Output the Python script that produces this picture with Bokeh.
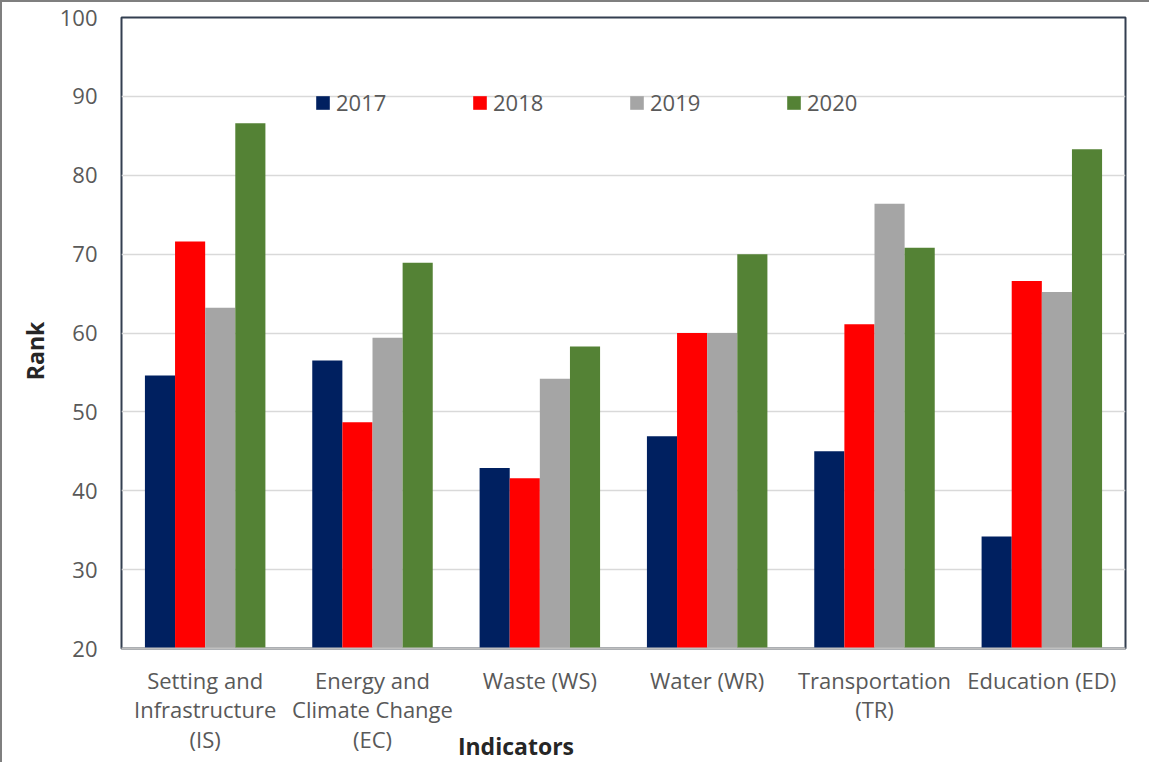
from bokeh.plotting import figure
from bokeh.models import FactorRange, ColumnDataSource, Legend, LegendItem, SingleIntervalTicker
from bokeh.transform import dodge
from bokeh.embed import file_html
from bokeh.resources import INLINE

categories = ["Setting and\nInfrastructure\n(IS)", "Energy and\nClimate Change\n(EC)", "Waste (WS)",
              "Water (WR)", "Transportation\n(TR)", "Education (ED)"]
years = ["2017", "2018", "2019", "2020"]
v2017 = [54.6, 56.5, 42.9, 46.9, 45.0, 34.2]
v2018 = [71.6, 48.7, 41.6, 60.0, 61.1, 66.6]
v2019 = [63.2, 59.4, 54.2, 60.0, 76.4, 65.2]
v2020 = [86.6, 68.9, 58.3, 70.0, 70.8, 83.3]
colors = ["#002060", "#FF0000", "#A5A5A5", "#548235"]

source = ColumnDataSource(dict(cat=categories, y2017=v2017, y2018=v2018, y2019=v2019, y2020=v2020))

FONT = "Open Sans"
NB = "\u00a0"
p = figure(width=1149, height=762, x_range=FactorRange(factors=categories, range_padding=0),
           y_range=(20, 100), output_backend="svg", toolbar_location=None,
           min_border_left=119, min_border_right=26, min_border_top=15, min_border_bottom=114)
p.styles = {"border-left": "2px solid #7f7f7f", "border-top": "2px solid #7f7f7f"}

p.outline_line_color = "#333F50"
p.outline_line_width = 2
p.background_fill_color = "white"
p.border_fill_color = "white"

offsets = [-0.27, -0.09, 0.09, 0.27]
bar_w = 0.18
renderers = []
for yr, off, col in zip(years, offsets, colors):
    r = p.vbar(x=dodge("cat", off, range=p.x_range), top="y" + yr, bottom=20, width=bar_w,
               source=source, fill_color=col, line_color=None)
    renderers.append(r)

# grid
p.xgrid.grid_line_color = None
p.ygrid.grid_line_color = "#D9D9D9"
p.ygrid.grid_line_width = 1.5

# y axis
p.yaxis.ticker = SingleIntervalTicker(interval=10)
p.yaxis.axis_line_color = None
p.yaxis.major_tick_line_color = None
p.yaxis.minor_tick_line_color = None
p.yaxis.major_label_text_font = FONT
p.yaxis.major_label_text_font_size = "22px"
p.yaxis.major_label_text_color = "#595959"
p.yaxis.major_label_standoff = 18
p.yaxis.axis_label = "Rank" + NB * 6
p.yaxis.axis_label_text_font = FONT
p.yaxis.axis_label_text_font_size = "23px"
p.yaxis.axis_label_text_font_style = "bold"
p.yaxis.axis_label_text_color = "#262626"
p.yaxis.axis_label_standoff = 6

# x axis
p.xaxis.axis_line_color = "#BFBFBF"
p.xaxis.axis_line_width = 2
p.xaxis.major_tick_line_color = None
p.xaxis.minor_tick_line_color = None
p.xaxis.major_label_text_font = FONT
p.xaxis.major_label_text_font_size = "22px"
p.xaxis.major_label_text_color = "#595959"
p.xaxis.major_label_text_line_height = 0.99
p.xaxis.major_label_standoff = 10
p.xaxis.major_label_orientation = "horizontal"
p.xaxis.axis_label = "Indicators" + NB * 36
p.xaxis.axis_label_text_font = FONT
p.xaxis.axis_label_text_font_size = "23px"
p.xaxis.axis_label_text_font_style = "bold"
p.xaxis.axis_label_text_color = "#262626"
p.xaxis.axis_label_standoff = -27

legend = Legend(items=[LegendItem(label=yr, renderers=[r]) for yr, r in zip(years, renderers)],
                orientation="horizontal", location=(193, 531), padding=0, margin=0,
                border_line_color=None, background_fill_alpha=0,
                glyph_width=17, glyph_height=17, label_standoff=5, label_width=120, spacing=15,
                label_text_font=FONT, label_text_font_size="22px", label_text_color="#595959")
p.add_layout(legend, "center")

open("out.html", "w").write(file_html(p, INLINE))
